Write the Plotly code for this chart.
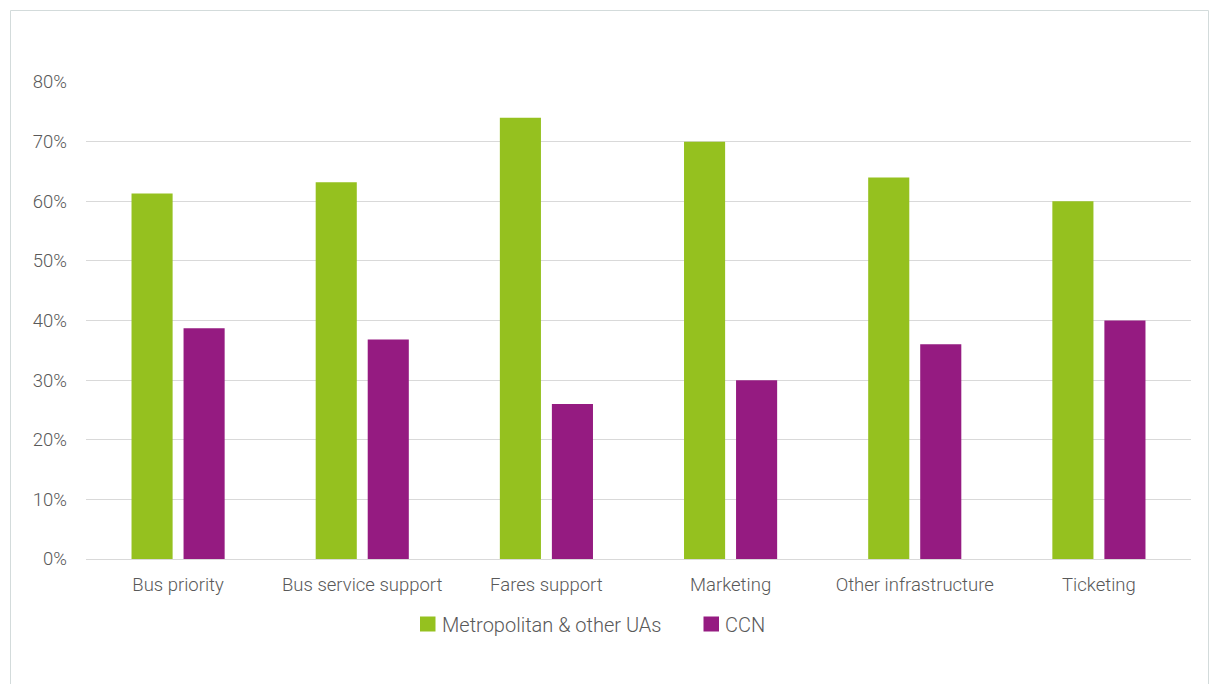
import plotly.graph_objects as go

categories = ["Bus priority", "Bus service support", "Fares support",
              "Marketing", "Other infrastructure", "Ticketing"]
metro_share = [0.613, 0.632, 0.74, 0.70, 0.64, 0.60]
ccn_share = [0.387, 0.368, 0.26, 0.30, 0.36, 0.40]
y_ticks = [0, 0.1, 0.2, 0.3, 0.4, 0.5, 0.6, 0.7, 0.8]
y_tick_labels = ["0%", "10%", "20%", "30%", "40%", "50%", "60%", "70%", "80%"]
series_names = ["Metropolitan & other UAs", "CCN"]

GREEN = "#95c11f"
PURPLE = "#951b81"
TEXT = "#595959"
FONT = "Roboto"

fig = go.Figure()
fig.add_trace(go.Bar(
    x=categories, y=metro_share, name=series_names[0],
    marker=dict(color=GREEN, line=dict(width=0)),
))
fig.add_trace(go.Bar(
    x=categories, y=ccn_share, name=series_names[1],
    marker=dict(color=PURPLE, line=dict(width=0)),
))

W, H = 1213, 684
L, R, T, B = 86, 22, 82, 125
pw, ph = W - L - R, H - T - B

def px_x(p):
    return (p - L) / pw

def px_y(p):
    return (H - B - p) / ph

# legend drawn as swatches + labels below the plot
legend_items = [(series_names[0], GREEN, 420), (series_names[1], PURPLE, 703.5)]
shapes = [dict(
    type="rect", xref="paper", yref="paper",
    x0=px_x(10.5), x1=px_x(1208.5), y0=px_y(700), y1=px_y(10.5),
    line=dict(color="#d3dbdb", width=1), fillcolor="rgba(0,0,0,0)",
    layer="below",
)]
annotations = []
for name, color, x0 in legend_items:
    shapes.append(dict(
        type="rect", xref="paper", yref="paper",
        x0=px_x(x0), x1=px_x(x0 + 15.5), y0=px_y(631.5), y1=px_y(616.5),
        line=dict(width=0), fillcolor=color,
    ))
    annotations.append(dict(
        text=name, xref="paper", yref="paper",
        x=px_x(x0 + 19.5), y=px_y(624.5), xanchor="left", yanchor="middle",
        showarrow=False, font=dict(family=FONT, size=20, color=TEXT, weight=300),
    ))

fig.update_layout(
    width=W, height=H,
    margin=dict(l=L, r=R, t=T, b=B),
    paper_bgcolor="white", plot_bgcolor="white",
    barmode="group", bargap=0.435, bargroupgap=0.21,
    font=dict(family=FONT, color=TEXT, size=18.5, weight=300),
    showlegend=False,
    xaxis=dict(
        showgrid=False, showline=False, ticks="", zeroline=False,
        tickfont=dict(size=18.5, color=TEXT, weight=300), ticklabelstandoff=12,
    ),
    yaxis=dict(
        range=[0, 0.8], tickvals=y_ticks, ticktext=y_tick_labels,
        showgrid=True, gridcolor="#d9d9d9", gridwidth=1,
        zeroline=True, zerolinecolor="#d9d9d9", zerolinewidth=1,
        showline=False, ticks="", tickfont=dict(size=18.5, color=TEXT, weight=300),
        ticklabelstandoff=18,
    ),
    shapes=shapes,
    annotations=annotations,
)

fig.write_html("out.html")
